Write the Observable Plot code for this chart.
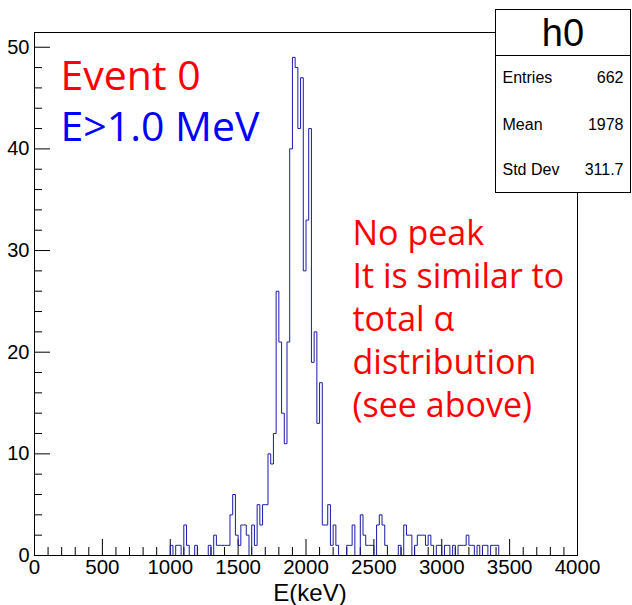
<!DOCTYPE html>
<html>
<head>
<meta charset="utf-8">
<script src="https://cdn.jsdelivr.net/npm/d3@7"></script>
<script src="https://cdn.jsdelivr.net/npm/@observablehq/plot@0.6"></script>
<style>
  html, body { margin: 0; padding: 0; background: #fff; }
</style>
</head>
<body>
<div id="chart"></div>
<script>
// Energy spectrum h0: event 0, deposits above 1.0 MeV, 20 keV bins
const binWidth = 20;        // keV
const firstBinLow = 1000;   // keV, low edge of the first listed bin
const counts = [
  1, 0, 1, 1, 0, 3, 1, 0, 0, 1,        // 1000-1180
  0, 0, 0, 0, 1, 0, 2, 1, 1, 1,        // 1200-1380
  1, 1, 4, 6, 2, 1, 3, 3, 2, 0,        // 1400-1580
  3, 1, 5, 3, 5, 5, 10, 9, 12, 26,     // 1600-1780
  21, 14, 11, 21, 40, 49, 48, 42, 47, 28, // 1800-1980
  33, 42, 19, 22, 13, 17, 3, 3, 5, 1,  // 2000-2180
  3, 1, 0, 0, 0, 1, 1, 3, 0, 0,        // 2200-2380
  4, 2, 1, 1, 1, 0, 3, 4, 3, 1,        // 2400-2580
  0, 0, 0, 0, 1, 0, 3, 2, 2, 0,        // 2600-2780
  1, 2, 2, 2, 1, 2, 1, 0, 1, 1,        // 2800-2980
  0, 1, 1, 0, 1, 0, 1, 1, 1, 2,        // 3000-3180
  1, 1, 0, 1, 0, 1, 1, 0, 1, 1,        // 3200-3380
  1, 0                                  // 3400-3420
];

const xRange = [0, 4000];
const xTicks = [0, 500, 1000, 1500, 2000, 2500, 3000, 3500, 4000];
const xMinorStep = 100;
const yTicks = [0, 10, 20, 30, 40, 50];
const yMinorStep = 2;

const histName = "h0";
const statsRows = [
  ["Entries", "662"],
  ["Mean", "1978"],
  ["Std Dev", "311.7"]
];
const titleLines = [
  {text: "Event 0", color: "#ff0000"},
  {text: "E>1.0 MeV", color: "#0000ff"}
];
const noteLines = ["No peak", "It is similar to", "total \u03b1", "distribution", "(see above)"];
const xLabel = "E(keV)";

// outline points of the histogram (step drawn after each bin's low edge)
const steps = [{e: xRange[0], n: 0}];
counts.forEach((n, i) => steps.push({e: firstBinLow + i * binWidth, n}));
steps.push({e: firstBinLow + counts.length * binWidth, n: 0});
steps.push({e: xRange[1], n: 0});

const W = 632, H = 605;
const M = {top: 32, right: 55, bottom: 50, left: 34};
const frameW = W - M.left - M.right;
const frameH = H - M.top - M.bottom;
const yMax = d3.max(counts) * 1.05;

const xMinor = d3.range(xRange[0], xRange[1] + 1, xMinorStep).filter(v => !xTicks.includes(v));
const yMinor = d3.range(0, yMax, yMinorStep).filter(v => !yTicks.includes(v));

const sans = "'Liberation Sans', Arial, Helvetica, sans-serif";
const noteFont = "'Open Sans', 'Noto Sans', sans-serif";

const plot = Plot.plot({
  width: W,
  height: H,
  marginTop: M.top,
  marginRight: M.right,
  marginBottom: M.bottom,
  marginLeft: M.left,
  x: {domain: xRange},
  y: {domain: [0, yMax]},
  style: {fontFamily: sans, background: "#fff", color: "#000", overflow: "visible"},
  marks: [
    // inward tick marks, ROOT style
    Plot.tickX(xMinor, {x: d => d, insetTop: frameH - 8, stroke: "#000", strokeWidth: 1}),
    Plot.tickX(xTicks, {x: d => d, insetTop: frameH - 16, stroke: "#000", strokeWidth: 1}),
    Plot.tickY(yMinor, {y: d => d, insetRight: frameW - 8, stroke: "#000", strokeWidth: 1}),
    Plot.tickY(yTicks, {y: d => d, insetRight: frameW - 16, stroke: "#000", strokeWidth: 1}),
    Plot.axisX({ticks: xTicks, tickSize: 0, tickPadding: 4, fontSize: 20.5, tickFormat: d => String(d), label: null}),
    Plot.axisY({ticks: yTicks, tickSize: 0, tickPadding: 5, fontSize: 20, tickFormat: d => String(d), label: null}),
    Plot.lineY(steps, {x: "e", y: "n", curve: "step-after", stroke: "#1a1aaa", strokeWidth: 1}),
    Plot.frame({stroke: "#000", strokeWidth: 1}),
    Plot.text([xLabel], {frameAnchor: "bottom", dx: 4, dy: 45, lineAnchor: "bottom", fontSize: 24, fill: "#000"}),
    Plot.text([titleLines[0].text], {frameAnchor: "top-left", dx: 26, dy: 57, textAnchor: "start", lineAnchor: "bottom", fontSize: 41, fontFamily: noteFont, fill: titleLines[0].color}),
    Plot.text([titleLines[1].text], {frameAnchor: "top-left", dx: 26, dy: 108, textAnchor: "start", lineAnchor: "bottom", fontSize: 41, fontFamily: noteFont, fill: titleLines[1].color}),
    Plot.text([noteLines.join("\n")], {frameAnchor: "top-left", dx: 318, dy: 182, textAnchor: "start", lineAnchor: "top", lineHeight: 1.265, fontSize: 34, fontFamily: noteFont, fill: "#ff0000"})
  ]
});

// statistics box in the top-right corner
const svg = d3.select(plot);
const box = {x: 495.5, y: 9.5, w: 135, h: 183, split: 55.5};
const g = svg.append("g").attr("font-family", sans).attr("text-anchor", "start");
g.append("rect")
  .attr("x", box.x).attr("y", box.y).attr("width", box.w).attr("height", box.h)
  .attr("fill", "#fff").attr("stroke", "#000").attr("stroke-width", 1);
g.append("line")
  .attr("x1", box.x).attr("x2", box.x + box.w).attr("y1", box.split).attr("y2", box.split)
  .attr("stroke", "#000").attr("stroke-width", 1);
g.append("text")
  .attr("x", box.x + box.w / 2).attr("y", 46).attr("text-anchor", "middle")
  .attr("font-size", 38).text(histName);
const rowY = [83, 130, 175];
statsRows.forEach(([k, v], i) => {
  g.append("text").attr("x", box.x + 7).attr("y", rowY[i]).attr("text-anchor", "start").attr("font-size", 16).text(k);
  g.append("text").attr("x", box.x + box.w - 7).attr("y", rowY[i]).attr("text-anchor", "end").attr("font-size", 16).text(v);
});

document.getElementById("chart").appendChild(plot);
</script>
</body>
</html>
